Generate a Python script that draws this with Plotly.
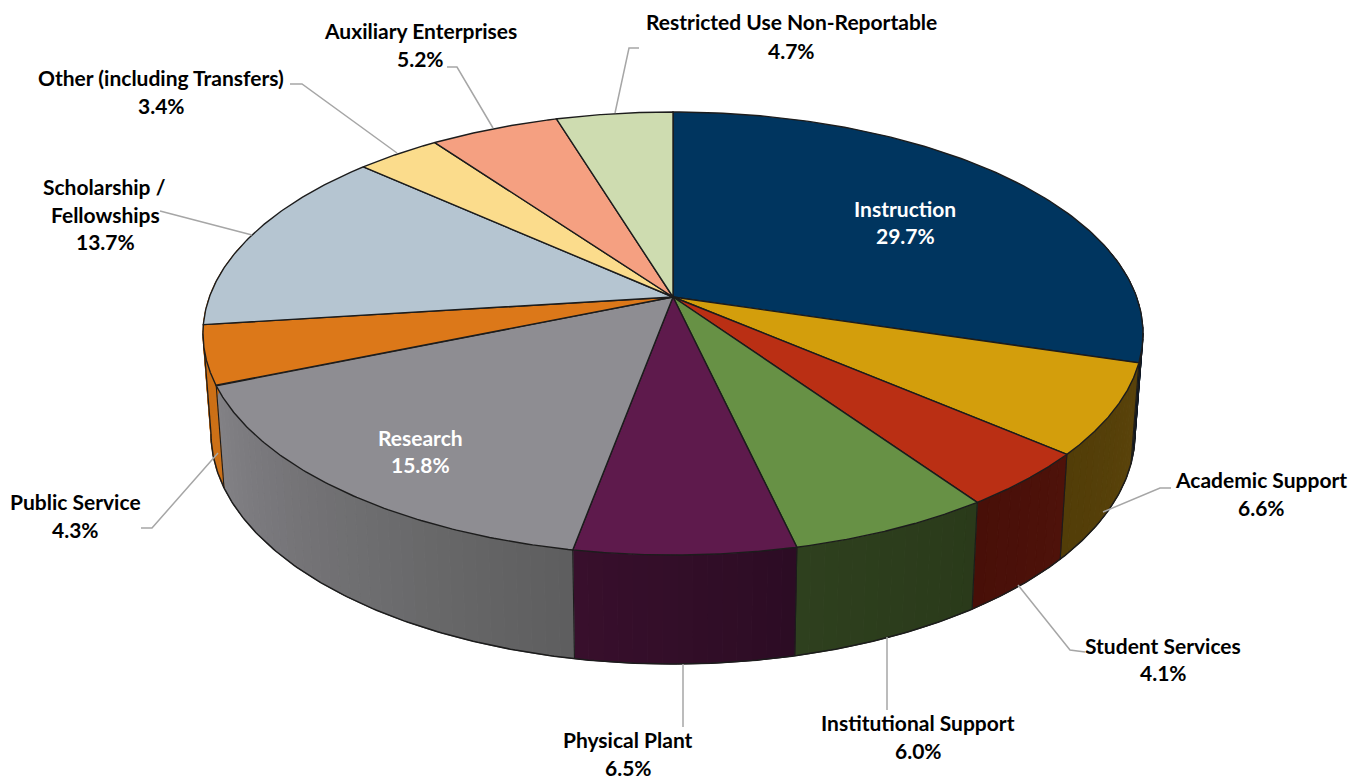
import numpy as np
import plotly.graph_objects as go

# ==========================================
# DATA
# ==========================================
categories = ["Instruction", "Academic Support", "Student Services", "Institutional Support",
              "Physical Plant", "Research", "Public Service", "Scholarship / Fellowships",
              "Other (including Transfers)", "Auxiliary Enterprises", "Restricted Use Non-Reportable"]
shares = [29.7, 6.6, 4.1, 6.0, 6.5, 15.8, 4.3, 13.7, 3.4, 5.2, 4.7]

# ==========================================
# STYLE
# ==========================================
TOP_COLORS = ["#00355F", "#D39E0C", "#BA2F14", "#679145", "#5E1A4C", "#8E8D92",
              "#DC7819", "#B5C5D1", "#FBDC8C", "#F5A081", "#CEDCB0"]
# side wall colour at the start and end of each slice, going clockwise
SIDE_COLORS = [("#000F1E", "#04142A"), ("#5A430A", "#523D08"), ("#4E120A", "#480F08"),
               ("#2A3A1A", "#2E401E"), ("#2C0C24", "#380F2C"), ("#5E5E5E", "#828186"),
               ("#CC7016", "#CC7016"), ("#CC7016", "#CC7016"), ("#C0A86A", "#C0A86A"),
               ("#BC7A62", "#BC7A62"), ("#9EAA88", "#9EAA88")]
EDGE = "#1C1C1C"
LEADER = "#A6A6A6"
FONT = "Lato"
SIZE = 21

# label text lines: (text, centre x, centre y) per slice, last line is the share
LABEL_LINES = [
    [("Instruction", 905, 208.5)],
    [("Academic Support", 1261, 479.5)],
    [("Student Services", 1163, 645.5)],
    [("Institutional Support", 918, 722.5)],
    [("Physical Plant", 628, 739.5)],
    [("Research", 420, 437.5)],
    [("Public Service", 75, 501.5)],
    [("Scholarship /", 104, 186.5), ("Fellowships", 105, 214.5)],
    [("Other (including Transfers)", 161, 77.5)],
    [("Auxiliary Enterprises", 420, 30.5)],
    [("Restricted Use Non-Reportable", 791, 21.5)],
]
SHARE_POS = [(905, 235.5), (1261, 507.5), (1163, 672.5), (918, 750.5), (628, 767), (420, 464.5),
             (75, 529.5), (105, 241.5), (161, 105.5), (420, 58.5), (791, 50.5)]
LABEL_COLORS = ["white", "black", "black", "black", "black", "white",
                "black", "black", "black", "black", "black"]
LEADERS = [
    [(1171, 488), (1160, 488), (1103, 512)],
    [(1085, 652), (1070, 650), (1018, 585)],
    [(887, 637), (887, 710)],
    [(683, 664), (683, 727)],
    [(141, 528), (152, 528), (218, 453)],
    [(160, 211), (252, 235)],
    [(290, 84), (302, 84), (397, 153)],
    [(447, 67), (457, 67), (493, 128)],
    [(639, 48), (629, 48), (615, 113)],
]

# ==========================================
# PROJECTION OF THE DISC
# ==========================================
CX, CY = 673, 297
RX, RY, K = 463.6, 215.5, 0.1648
BOT_CY, BOT_RY, BOT_SCALE = 395.3, 224.4, 0.983


def project_top(angle):
    u, v = np.sin(angle), -np.cos(angle)
    d = 1 - K * v
    return CX + RX * u / d, CY + RY * v / d


def project_bottom(angle):
    u, v = np.sin(angle), -np.cos(angle)
    d = 1 - K * v
    return CX + BOT_SCALE * RX * u / d, BOT_CY + BOT_RY * v / d


def mix(c1, c2, t):
    a = [int(c1[i:i + 2], 16) for i in (1, 3, 5)]
    b = [int(c2[i:i + 2], 16) for i in (1, 3, 5)]
    return "rgb(%d,%d,%d)" % tuple(round(p + (q - p) * t) for p, q in zip(a, b))


fig = go.Figure()


def add_poly(xs, ys, fill, line=None, width=1):
    fig.add_trace(go.Scatter(
        x=list(xs), y=list(ys), mode="lines", fill="toself", fillcolor=fill,
        line=dict(color=line or fill, width=width), hoverinfo="skip", showlegend=False,
    ))


def add_line(xs, ys, color, width):
    fig.add_trace(go.Scatter(
        x=list(xs), y=list(ys), mode="lines", line=dict(color=color, width=width),
        hoverinfo="skip", showlegend=False,
    ))


edges = np.concatenate([[0], np.cumsum(shares)]) / sum(shares) * 2 * np.pi

# side wall, thin strips, only the front half is ever seen
for i in range(len(shares)):
    start, end = edges[i], edges[i + 1]
    n = max(2, int((end - start) / np.radians(1.5)))
    steps = np.linspace(start, end, n + 1)
    for j in range(n):
        if -np.cos((steps[j] + steps[j + 1]) / 2) < -0.25:
            continue
        a0, a1 = steps[j], steps[j + 1]
        t0 = project_top(a0)
        t1 = project_top(a1)
        b0 = project_bottom(a0)
        b1 = project_bottom(a1)
        add_poly([t0[0], t1[0], b1[0], b0[0], t0[0]], [t0[1], t1[1], b1[1], b0[1], t0[1]],
                 mix(SIDE_COLORS[i][0], SIDE_COLORS[i][1], (j + 0.5) / n))

# bottom rim, from one tangent of the disc to the other, and the outline up to the top face
tangent = np.arccos(-K)
front = np.linspace(tangent, 2 * np.pi - tangent, 300)
bx, by = project_bottom(front)
add_line(bx, by, EDGE, 1.5)
for a in (tangent, 2 * np.pi - tangent):
    t = project_top(a)
    b = project_bottom(a)
    add_line([t[0], b[0]], [t[1], b[1]], EDGE, 1.3)

# vertical seams
for a in edges[:7]:
    if -np.cos(a) > 0:
        t = project_top(a)
        b = project_bottom(a)
        add_line([t[0], b[0]], [t[1], b[1]], EDGE, 1.1)

# top face
for i in range(len(shares)):
    arc = np.linspace(edges[i], edges[i + 1], 120)
    ax_, ay_ = project_top(arc)
    add_poly(np.r_[CX, ax_, CX], np.r_[CY, ay_, CY], TOP_COLORS[i], EDGE, 1.4)

# leader lines
for pts in LEADERS:
    add_line([p[0] for p in pts], [p[1] for p in pts], LEADER, 1.5)

# labels
for i, lines in enumerate(LABEL_LINES):
    for text, x, y in lines:
        fig.add_annotation(x=x, y=y, text=f"<b>{text}</b>", showarrow=False,
                           font=dict(family=FONT, size=SIZE, color=LABEL_COLORS[i]))
    sx, sy = SHARE_POS[i]
    fig.add_annotation(x=sx, y=sy, text=f"<b>{shares[i]:.1f}%</b>", showarrow=False,
                       font=dict(family=FONT, size=SIZE, color=LABEL_COLORS[i]))

fig.update_layout(
    width=1364, height=779, margin=dict(l=0, r=0, t=0, b=0),
    plot_bgcolor="white", paper_bgcolor="white", showlegend=False,
)
fig.update_xaxes(range=[0, 1364], visible=False)
fig.update_yaxes(range=[779, 0], visible=False)

# the page's default body margin would push the plot 8px in
fig.write_html("out.html", config=dict(displayModeBar=False),
               post_script="document.body.style.margin='0';")
